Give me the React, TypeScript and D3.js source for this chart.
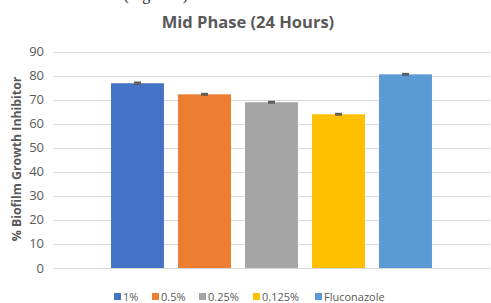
import React, { useEffect, useRef } from 'react';
import * as d3 from 'd3';

const series = ['1%', '0.5%', '0.25%', '0.125%', 'Fluconazole'];
const values = [76.8, 72.2, 68.9, 63.9, 80.5];
const errors = [0.4, 0.3, 0.3, 0.3, 0.3];
const colors = ['#4472c4', '#ed7d31', '#a5a5a5', '#ffc000', '#5b9bd5'];
const yTicks = [0, 10, 20, 30, 40, 50, 60, 70, 80, 90];

const width = 491, height = 303;
const font = '"Open Sans", sans-serif';

const App = () => {
    const svgRef = useRef<SVGSVGElement>(null);

    useEffect(() => {
        const svg = d3.select(svgRef.current);
        svg.selectAll('*').remove();

        const left = 53, right = 490, top = 51.5, bottom = 268;

        const x = d3.scaleBand<string>()
            .domain(series)
            .range([left, right])
            .paddingInner(0.21)
            .paddingOuter(0.866);
        const y = d3.scaleLinear().domain([0, 90]).range([bottom, top]);

        // cut-off line of page text above the chart
        svg.append('text')
            .attr('x', 192).attr('y', 0)
            .attr('text-anchor', 'end')
            .style('font-family', 'serif')
            .style('font-size', '16px')
            .attr('fill', '#222')
            .text('treatment (Figure 4).');

        svg.append('text')
            .attr('x', 248).attr('y', 28)
            .attr('text-anchor', 'middle')
            .style('font-family', font)
            .style('font-size', '16.5px')
            .style('font-weight', 'bold')
            .attr('fill', '#595959')
            .text('Mid Phase (24 Hours)');

        svg.append('g')
            .selectAll('line')
            .data(yTicks)
            .enter()
            .append('line')
            .attr('x1', left).attr('x2', right)
            .attr('y1', (d) => Math.round(y(d)) + 0.5)
            .attr('y2', (d) => Math.round(y(d)) + 0.5)
            .attr('stroke', '#d9d9d9')
            .attr('stroke-width', 1);

        svg.append('g')
            .selectAll('text')
            .data(yTicks)
            .enter()
            .append('text')
            .attr('x', 44)
            .attr('y', (d) => y(d) + 4.5)
            .attr('text-anchor', 'end')
            .style('font-family', font)
            .style('font-size', '13px')
            .attr('fill', '#595959')
            .text((d) => d);

        svg.append('text')
            .attr('transform', `translate(21,159) rotate(-90)`)
            .attr('text-anchor', 'middle')
            .style('font-family', font)
            .style('font-size', '12.3px')
            .style('font-weight', 'bold')
            .attr('fill', '#595959')
            .text('% Biofilm Growth Inhibitor');

        svg.append('g')
            .selectAll('rect')
            .data(series)
            .enter()
            .append('rect')
            .attr('x', (d) => x(d)!)
            .attr('width', x.bandwidth())
            .attr('y', (d, i) => y(values[i]))
            .attr('height', (d, i) => bottom - y(values[i]))
            .attr('fill', (d, i) => colors[i]);

        const err = svg.append('g').attr('stroke', '#595959').attr('stroke-width', 1.5);
        series.forEach((s, i) => {
            const cx = x(s)! + x.bandwidth() / 2;
            err.append('line')
                .attr('x1', cx).attr('x2', cx)
                .attr('y1', y(values[i] + errors[i])).attr('y2', y(values[i] - errors[i]));
            [values[i] + errors[i], values[i] - errors[i]].forEach((v) => {
                err.append('line')
                    .attr('x1', cx - 3.5).attr('x2', cx + 3.5)
                    .attr('y1', y(v)).attr('y2', y(v));
            });
        });

        const legendX = [114, 152, 199, 253, 315];
        const lg = svg.append('g');
        series.forEach((s, i) => {
            lg.append('rect')
                .attr('x', legendX[i]).attr('y', 293)
                .attr('width', 7).attr('height', 7)
                .attr('fill', colors[i]);
            lg.append('text')
                .attr('x', legendX[i] + 9).attr('y', 300.5)
                .style('font-family', font)
                .style('font-size', '11px')
                .attr('fill', '#595959')
                .text(s);
        });
    }, []);

    return (
        <div>
            <style>{`body{margin:0;background:#fff}`}</style>
            <svg ref={svgRef} width={width} height={height} style={{ display: 'block' }} />
        </div>
    );
};

export default App;
